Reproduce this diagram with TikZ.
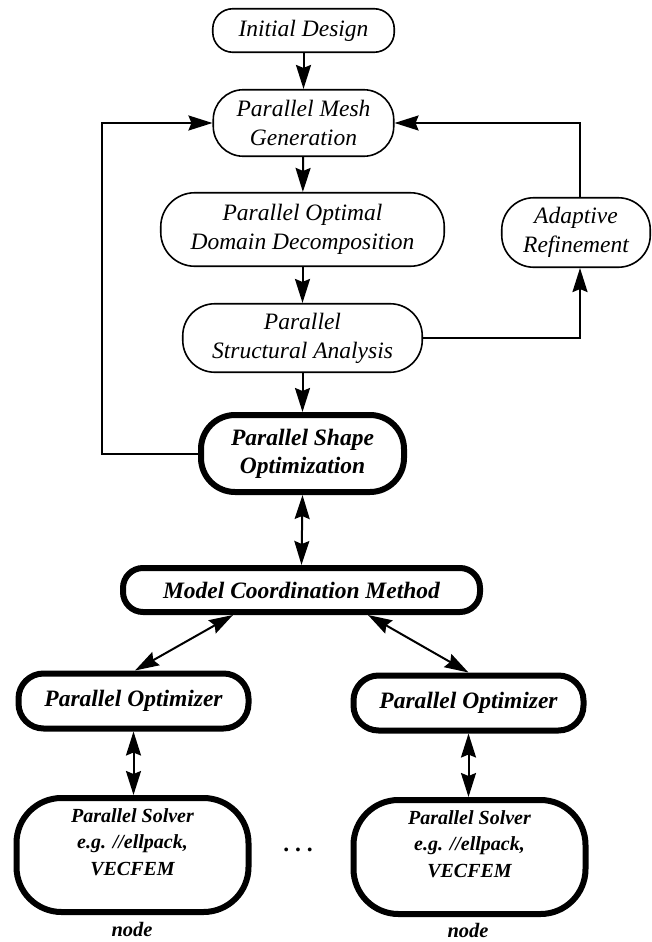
\documentclass[tikz,border=0pt]{standalone}
\usepackage{fontspec}
\setmainfont{Liberation Serif}
\usetikzlibrary{arrows.meta}

\tikzset{
  box/.style={draw, rectangle, align=center, inner sep=0pt,
    line width=1.6pt, font=\fontsize{23.5}{29}\selectfont\itshape},
  heavybox/.style={box, line width=6pt,
    font=\fontsize{23.5}{28}\selectfont\bfseries\itshape},
  solvertext/.style={align=center, inner sep=0pt,
    font=\fontsize{20}{26.5}\selectfont\bfseries\itshape},
  flow/.style={line width=2pt, -{Stealth[length=24pt 0 0,width=15pt 0 0,inset=3pt 0]}},
  link/.style={line width=2pt, {Stealth[length=24pt 0 0,width=15pt 0 0,inset=3pt 0]}-{Stealth[length=24pt 0 0,width=15pt 0 0,inset=3pt 0]}},
  tag/.style={inner sep=0pt, font=\fontsize{20.5}{24}\selectfont\bfseries\itshape}
}

\begin{document}
\begin{tikzpicture}[x=1pt, y=-1pt]
  \fill[white] (0,0) rectangle (651,942);
  \useasboundingbox (0,0) rectangle (651,942);

  % design loop
  \node[box, minimum width=181.5pt, minimum height=43.5pt, rounded corners=20pt]
    (init) at (303.5,30.5) {Initial Design};
  \node[box, minimum width=180.5pt, minimum height=66.5pt, rounded corners=30pt]
    (mesh) at (303.5,123) {Parallel Mesh\\Generation};
  \node[box, minimum width=283.5pt, minimum height=73.5pt, rounded corners=34pt]
    (ddm) at (302.5,229.5) {Parallel Optimal\\Domain Decomposition};
  \node[box, minimum width=239.5pt, minimum height=68.5pt, rounded corners=32pt]
    (sa) at (302.5,338) {Parallel\\Structural Analysis};
  \node[box, minimum width=148.5pt, minimum height=69.5pt, rounded corners=32pt]
    (adapt) at (576,232.5) {Adaptive\\Refinement};
  \node[heavybox, minimum width=203pt, minimum height=77pt, rounded corners=34pt]
    (shape) at (302.5,453.5) {Parallel Shape\\Optimization};

  % coordination level
  \node[heavybox, minimum width=357pt, minimum height=44pt, rounded corners=20pt]
    (mcm) at (301.5,590) {Model Coordination Method};
  \node[heavybox, minimum width=230pt, minimum height=55pt, rounded corners=25pt]
    (optL) at (133.5,701) {Parallel Optimizer};
  \node[heavybox, minimum width=230pt, minimum height=55pt, rounded corners=25pt]
    (optR) at (468.5,703) {Parallel Optimizer};

  % solver boxes, their text set a little above centre
  \node[heavybox, minimum width=232pt, minimum height=114pt, rounded corners=45pt]
    (solL) at (132.5,855) {};
  \node[heavybox, minimum width=232pt, minimum height=114pt, rounded corners=45pt]
    (solR) at (469.5,857) {};
  \node[solvertext] (solLtxt) at ([yshift=13pt]solL.center)
    {Parallel Solver\\e.g. //ellpack,\\VECFEM};
  \node[solvertext] (solRtxt) at ([yshift=13pt]solR.center)
    {Parallel Solver\\e.g. //ellpack,\\VECFEM};

  \node[tag, font=\fontsize{23.5}{28}\selectfont\bfseries] (dots) at (298,850) {.\ .\ .};
  \node[tag] (nodeL) at (132,929) {node};
  \node[tag] (nodeR) at (468,930) {node};

  \coordinate (lft) at (102,455);

  % connectors
  \draw[flow] (init) -- (mesh);
  \draw[flow] (mesh) -- (ddm);
  \draw[flow] (ddm) -- (sa);
  \draw[flow] (sa) -- (shape);
  \draw[flow] (shape.west) -- (shape.west -| lft) |- (mesh.west);
  \draw[flow] (sa.east) -| ([xshift=4pt]adapt.south);
  \draw[flow] ([xshift=4pt]adapt.north) |- (mesh.east);
  \draw[link] (shape.south) -- (mcm.north);
  \draw[link] ([xshift=-68.5pt]mcm.south) -- ([xshift=1.5pt]optL.north);
  \draw[link] ([xshift=66.5pt]mcm.south) -- (optR.north);
  \draw[link] (optL.south) -- (optL.south |- solL.north);
  \draw[link] (optR.south) -- (optR.south |- solR.north);
\end{tikzpicture}
\end{document}
